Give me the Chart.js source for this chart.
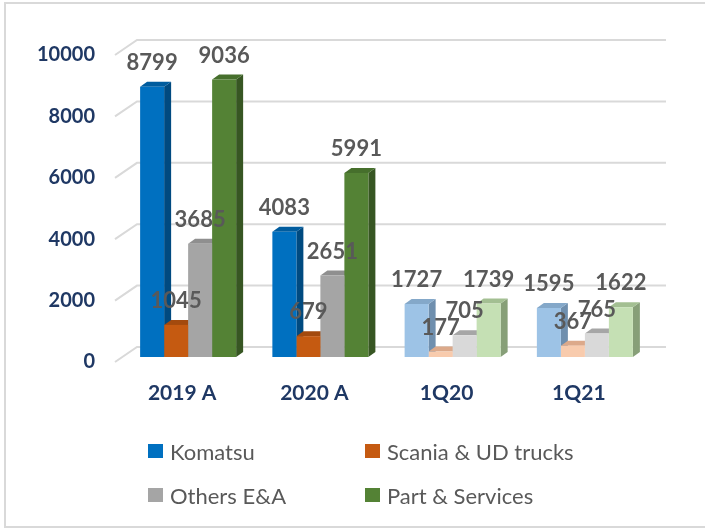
<!DOCTYPE html>
<html>
<head>
<meta charset="utf-8">
<script src="https://cdn.jsdelivr.net/npm/chart.js@4.4.0/dist/chart.umd.min.js"></script>
<style>
  body { margin: 0; background: #fff; }
  #wrap { position: relative; width: 705px; height: 530px; overflow: hidden; }
  #frame { position: absolute; left: 4px; top: 2px; width: 720px; height: 526px; border: 2px solid #d9d9d9; box-sizing: border-box; }
  canvas { position: absolute; left: 0; top: 0; }
  .lg { position: absolute; height: 30px; display: flex; align-items: center; font: 22px Lato, sans-serif; color: #595959; white-space: nowrap; }
  .lg i { display: inline-block; width: 15px; height: 14px; margin-right: 7px; }
</style>
</head>
<body>
<div id="wrap">
  <div id="frame"></div>
  <canvas id="myChart" width="705" height="530"></canvas>
  <div id="legend"></div>
</div>
<script>
// data
const categories = ['2019 A', '2020 A', '1Q20', '1Q21'];
const seriesNames = ['Komatsu', 'Scania & UD trucks', 'Others E&A', 'Part & Services'];
const komatsu = [8799, 4083, 1727, 1595];
const scania = [1045, 679, 177, 367];
const others = [3685, 2651, 705, 765];
const parts = [9036, 5991, 1739, 1622];
const yTicks = [0, 2000, 4000, 6000, 8000, 10000];

const seriesData = [komatsu, scania, others, parts];

// colours: full years strong, quarters faded
const faded = [false, false, true, true];
const frontStrong = ['#0070c0', '#c55a11', '#a5a5a5', '#548235'];
const sideStrong = ['#004a80', '#8a3f0c', '#7a7a7a', '#375623'];
const topStrong = ['#005c9e', '#a34a0e', '#8f8f8f', '#466f2c'];
const frontLight = ['#9dc3e6', '#f8cbad', '#d9d9d9', '#c5e0b4'];
const sideLight = ['#6f8fae', '#c9a088', '#ababab', '#879f78'];
const topLight = ['#84a8c9', '#dca98a', '#a6a6a6', '#a3bf92'];

const navy = '#1f3864';
const grey = '#595959';
const dx = 7, dy = 5;

function colorFor(k, i, part) {
  if (part == 'side') return faded[i] ? sideLight[k] : sideStrong[k];
  if (part == 'top') return faded[i] ? topLight[k] : topStrong[k];
  return faded[i] ? frontLight[k] : frontStrong[k];
}

function poly(ctx, pts, color) {
  ctx.fillStyle = color;
  ctx.beginPath();
  ctx.moveTo(pts[0][0], pts[0][1]);
  for (let p = 1; p < pts.length; p++) ctx.lineTo(pts[p][0], pts[p][1]);
  ctx.closePath();
  ctx.fill();
}

const bars3d = {
  id: 'bars3d',
  beforeDatasetsDraw(chart) {
    const ctx = chart.ctx, xs = chart.scales.x, ys = chart.scales.y;
    ctx.save();
    // walls + y labels
    ctx.strokeStyle = '#d9d9d9';
    ctx.lineWidth = 2;
    ctx.font = 'bold 20px Lato, sans-serif';
    ctx.fillStyle = navy;
    ctx.textAlign = 'right';
    ctx.textBaseline = 'middle';
    yTicks.forEach(v => {
      const py = ys.getPixelForValue(v);
      ctx.beginPath();
      ctx.moveTo(xs.left - 7, py + 5);
      ctx.lineTo(xs.left + 15, py - 10);
      ctx.lineTo(xs.right + 15, py - 10);
      ctx.stroke();
      ctx.fillText(String(v), 95, py + 5);
    });

    // side faces, then top faces
    ['side', 'top'].forEach(part => {
      chart.data.datasets.forEach((ds, k) => {
        chart.getDatasetMeta(k).data.forEach((bar, i) => {
          const p = bar.getProps(['x', 'y', 'base', 'width'], true);
          const l = p.x - p.width / 2, r = p.x + p.width / 2;
          if (part == 'side') {
            poly(ctx, [[r, p.y], [r + dx, p.y - dy], [r + dx, p.base - dy], [r, p.base]], colorFor(k, i, 'side'));
          } else {
            poly(ctx, [[l, p.y], [l + dx, p.y - dy], [r + dx, p.y - dy], [r, p.y]], colorFor(k, i, 'top'));
          }
        });
      });
    });
    ctx.restore();
  },
  afterDatasetsDraw(chart) {
    const ctx = chart.ctx;
    ctx.save();
    ctx.font = 'bold 22px Lato, sans-serif';
    ctx.fillStyle = grey;
    ctx.textAlign = 'center';
    ctx.textBaseline = 'middle';
    chart.data.datasets.forEach((ds, k) => {
      chart.getDatasetMeta(k).data.forEach((bar, i) => {
        ctx.fillText(String(ds.data[i]), bar.x, bar.y - 24);
      });
    });
    // category labels
    const xs = chart.scales.x;
    ctx.font = 'bold 21px Lato, sans-serif';
    ctx.fillStyle = navy;
    categories.forEach((c, i) => {
      ctx.fillText(c, xs.getPixelForValue(i) - 6, 393);
    });
    ctx.restore();
  }
};

var ctx = document.getElementById('myChart').getContext('2d');
var chart = new Chart(ctx, {
  type: 'bar',
  data: {
    labels: categories,
    datasets: seriesNames.map((name, k) => ({
      label: name,
      data: seriesData[k],
      backgroundColor: categories.map((c, i) => colorFor(k, i, 'front')),
      borderWidth: 0,
      categoryPercentage: 0.726,
      barPercentage: 1
    }))
  },
  options: {
    responsive: false,
    animation: false,
    layout: { padding: { left: 122, right: 54, top: 50, bottom: 173 } },
    scales: {
      x: { display: false },
      y: { display: false, min: 0, max: 10000 }
    },
    plugins: { legend: { display: false }, tooltip: { enabled: false } }
  },
  plugins: [bars3d]
});

// legend, two columns
const legendPos = [[148, 436], [365, 436], [148, 480], [365, 480]];
let html = '';
seriesNames.forEach((name, k) => {
  html += '<div class="lg" style="left:' + legendPos[k][0] + 'px;top:' + legendPos[k][1] + 'px"><i style="background:' +
    frontStrong[k] + '"></i>' + name.replace('&', '&amp;') + '</div>';
});
document.getElementById('legend').innerHTML = html;
</script>
</body>
</html>
